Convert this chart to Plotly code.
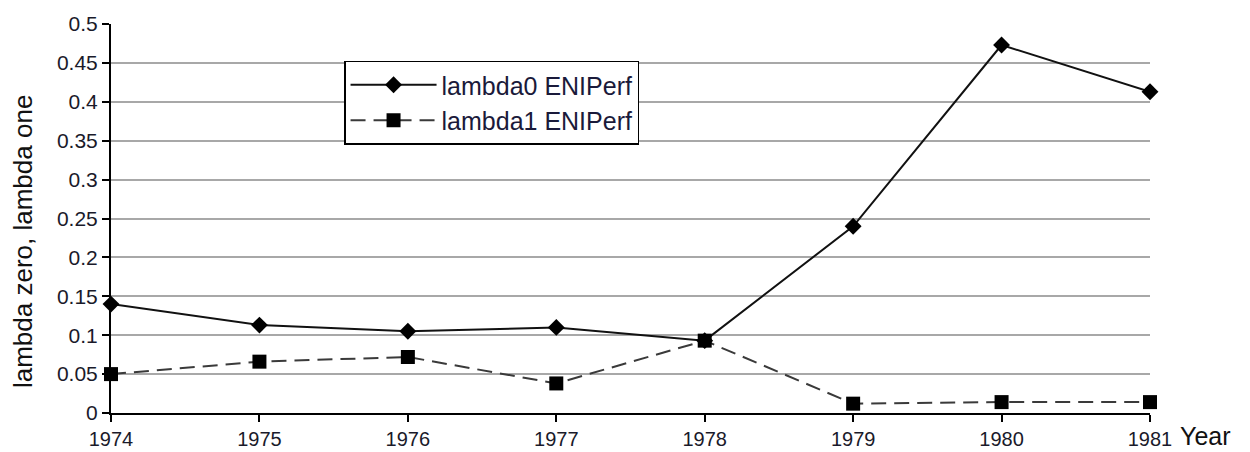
import plotly.graph_objects as go

# Data
years = [1974, 1975, 1976, 1977, 1978, 1979, 1980, 1981]
lambda0 = [0.140, 0.113, 0.105, 0.110, 0.093, 0.240, 0.473, 0.413]
lambda1 = [0.050, 0.066, 0.072, 0.038, 0.093, 0.012, 0.014, 0.014]
y_ticks = [0, 0.05, 0.1, 0.15, 0.2, 0.25, 0.3, 0.35, 0.4, 0.45, 0.5]
y_tick_text = ["0", "0.05", "0.1", "0.15", "0.2", "0.25", "0.3", "0.35", "0.4", "0.45", "0.5"]

font = "Liberation Sans, Arial, sans-serif"

fig = go.Figure()
fig.add_trace(go.Scatter(
    x=years, y=lambda0, name="lambda0 ENIPerf", mode="lines+markers",
    line=dict(color="#111111", width=2),
    marker=dict(symbol="diamond", size=13, color="#000000"),
    cliponaxis=False,
))
fig.add_trace(go.Scatter(
    x=years, y=lambda1, name="lambda1 ENIPerf", mode="lines+markers",
    line=dict(color="#3a3a3a", width=2, dash="15px,8px"),
    marker=dict(symbol="square", size=14, color="#000000"),
    cliponaxis=False,
))

# page body adds an 8px margin, so the figure is a bit smaller than the window
fig.update_layout(
    width=1234, height=444,
    margin=dict(l=103, r=92, t=15.5, b=38.5),
    plot_bgcolor="white", paper_bgcolor="white",
    font=dict(family=font, size=20, color="#1a1a2a"),
    showlegend=True,
    legend=dict(
        x=0.2243, y=0.906, xanchor="left", yanchor="top",
        bgcolor="white", bordercolor="#000000", borderwidth=1.5,
        font=dict(family=font, size=25, color="#1a1a3a"),
        itemwidth=86, tracegroupgap=0,
    ),
    xaxis=dict(
        range=[1974, 1981], tickvals=years, ticktext=[str(y) for y in years],
        showgrid=False, zeroline=False, automargin=False,
        showline=True, linecolor="#000000", linewidth=2,
        ticks="outside", ticklen=7, tickwidth=1.5, tickcolor="#000000",
        tickfont=dict(size=20),
    ),
    yaxis=dict(
        range=[0, 0.5], tickvals=y_ticks, ticktext=y_tick_text,
        showgrid=True, gridcolor="#a8a8a8", gridwidth=1.5,
        zeroline=False, automargin=False,
        showline=True, linecolor="#000000", linewidth=2,
        ticks="outside", ticklen=7, tickwidth=1.5, tickcolor="#000000",
        tickfont=dict(size=21),
    ),
    annotations=[
        dict(text="lambda zero, lambda one", xref="paper", yref="paper",
             x=-0.0847, y=0.442, textangle=-90, showarrow=False,
             xanchor="center", yanchor="middle",
             font=dict(family=font, size=26, color="#111111")),
        dict(text="Year", xref="paper", yref="paper",
             x=1.0, y=-0.06, showarrow=False, xanchor="left", yanchor="middle",
             xshift=28, font=dict(family=font, size=25, color="#111111")),
    ],
)

fig.write_html("out.html")
